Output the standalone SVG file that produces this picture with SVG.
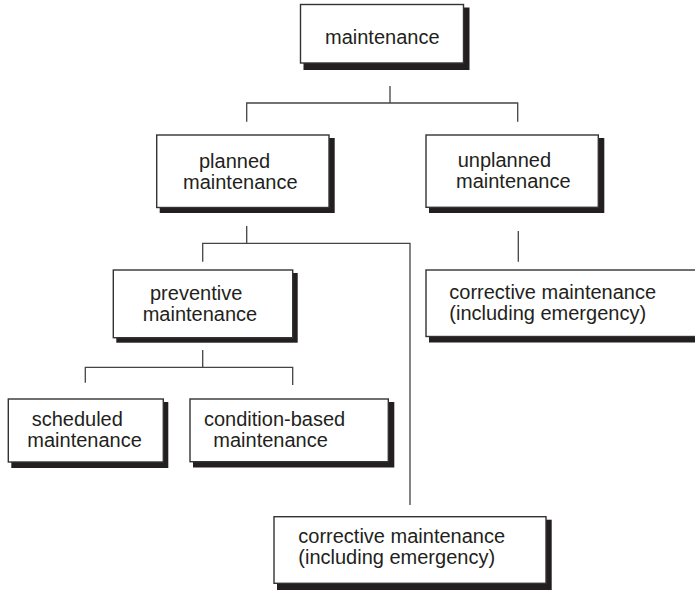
<svg xmlns="http://www.w3.org/2000/svg" width="695" height="590" viewBox="0 0 695 590">
<defs>
<style>
.box{fill:#fff;stroke:#333;stroke-width:1.4}
.sh{fill:#231f20}
.lbl{font-family:"Liberation Sans",Arial,sans-serif;font-size:20px;fill:#231f20}
.con{fill:none;stroke:#444;stroke-width:1.3}
</style>
</defs>
<rect width="695" height="590" fill="#fff"/>
<g id="connectors">
<path class="con" d="M390,86V103M246.7,121.7V103H517.7V121.7"/>
<path class="con" d="M246.7,226V243.3M202.7,261.7V243.3H410V505"/>
<path class="con" d="M518.3,231V261.7"/>
<path class="con" d="M202.7,350V367.3M85.3,382.7V367.3H292.7V385"/>
</g>
<g id="n-maintenance">
<rect class="sh" x="303.5" y="7.5" width="166" height="62.5"/>
<rect class="box" x="300.5" y="4.5" width="163" height="58.5"/>
<text class="lbl" x="325" y="44">maintenance</text>
</g>
<g id="n-planned">
<rect class="sh" x="159.7" y="138" width="175" height="75"/>
<rect class="box" x="156.7" y="135" width="172.3" height="72.5"/>
<text class="lbl" x="199" y="167.5">planned</text>
<text class="lbl" x="183" y="188.5">maintenance</text>
</g>
<g id="n-unplanned">
<rect class="sh" x="429" y="138" width="175.3" height="75"/>
<rect class="box" x="426" y="135" width="172.3" height="72.3"/>
<text class="lbl" x="457.7" y="167">unplanned</text>
<text class="lbl" x="456" y="188">maintenance</text>
</g>
<g id="n-corrective1">
<rect class="sh" x="429" y="273" width="280" height="69.5"/>
<rect class="box" x="426" y="270" width="280" height="66.5"/>
<text class="lbl" x="449.3" y="298.5">corrective maintenance</text>
<text class="lbl" x="449.3" y="319.5">(including emergency)</text>
</g>
<g id="n-preventive">
<rect class="sh" x="116.3" y="273" width="181.4" height="69.7"/>
<rect class="box" x="113.3" y="270" width="179.4" height="67.7"/>
<text class="lbl" x="150" y="299.5">preventive</text>
<text class="lbl" x="142.7" y="320.5">maintenance</text>
</g>
<g id="n-scheduled">
<rect class="sh" x="11.3" y="402" width="157" height="66"/>
<rect class="box" x="8.3" y="399" width="155" height="63"/>
<text class="lbl" x="31.7" y="425.5">scheduled</text>
<text class="lbl" x="27.3" y="446.5">maintenance</text>
</g>
<g id="n-condition">
<rect class="sh" x="193" y="402" width="201.3" height="65.5"/>
<rect class="box" x="190" y="399" width="198.3" height="62.7"/>
<text class="lbl" x="204" y="425.5">condition-based</text>
<text class="lbl" x="213.3" y="446.5">maintenance</text>
</g>
<g id="n-corrective2">
<rect class="sh" x="277" y="519.7" width="274.7" height="72"/>
<rect class="box" x="274" y="516.7" width="272" height="66.6"/>
<text class="lbl" x="298.3" y="543">corrective maintenance</text>
<text class="lbl" x="298.3" y="564">(including emergency)</text>
</g>
</svg>
